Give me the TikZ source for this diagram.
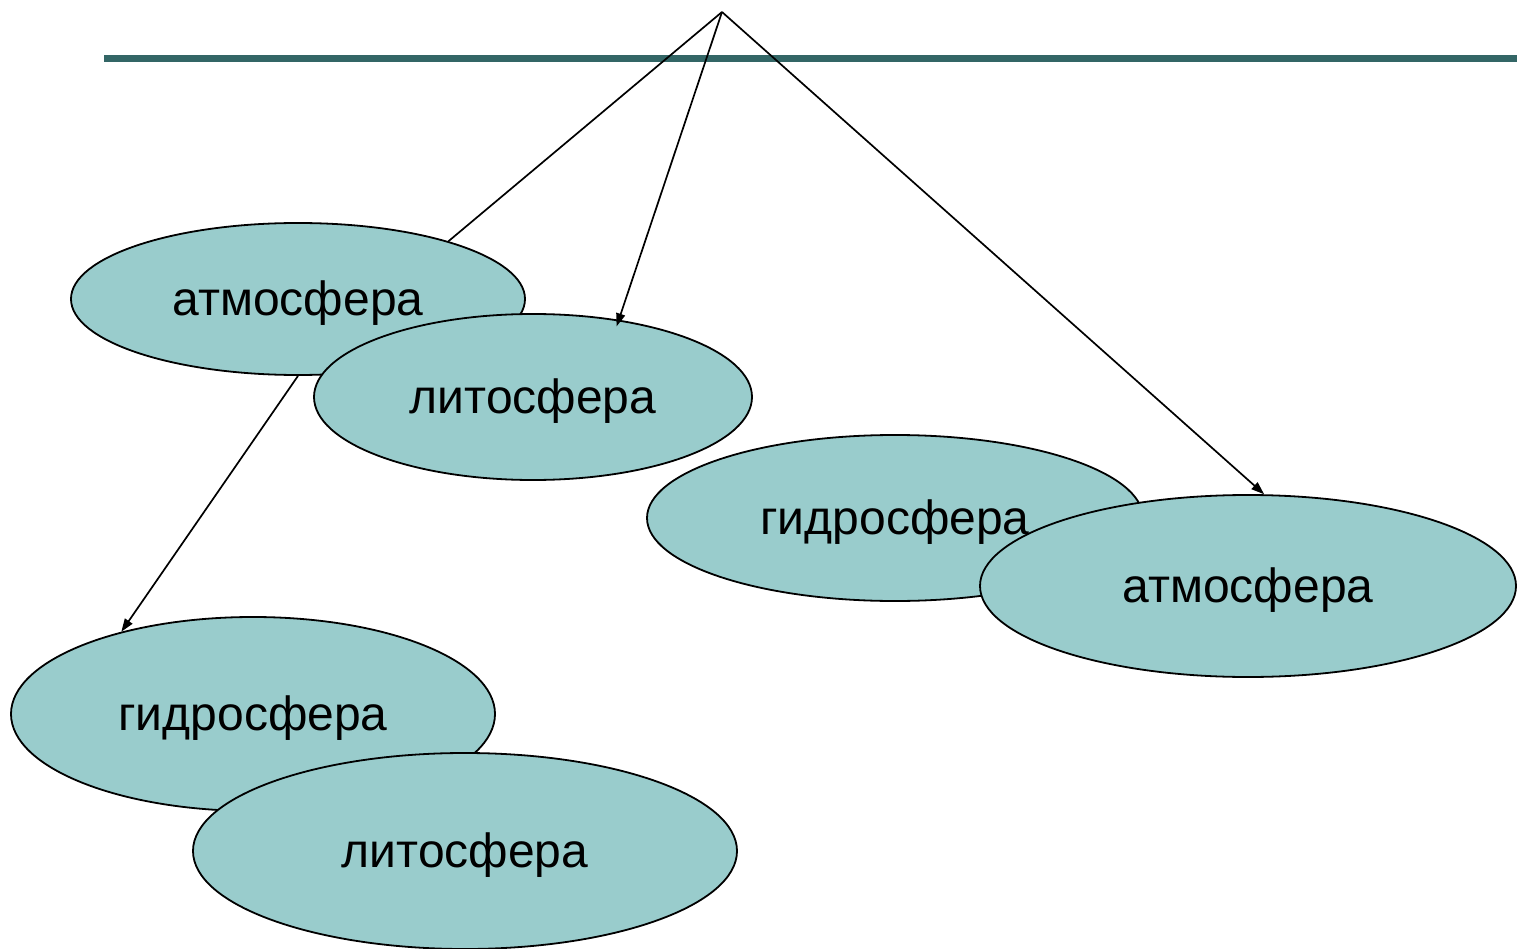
\documentclass[tikz,border=0pt]{standalone}
\usepackage{fontspec}
\setmainfont{Liberation Sans}
\usetikzlibrary{shapes.geometric,arrows.meta}
\definecolor{sphere}{HTML}{99CCCC}
\definecolor{rule}{HTML}{336666}
\tikzset{
  sph/.style={ellipse,draw=black,line width=1.8pt,fill=sphere,inner sep=0pt,
    text height=43pt,text depth=10pt,font=\fontsize{48}{56}\selectfont},
  conn/.style={draw=black,line width=1.7pt},
  arr/.style={conn,-{Triangle[length=13pt,width=9pt]}}
}
\begin{document}
\begin{tikzpicture}[x=1pt,y=-1pt]
\useasboundingbox (0,0) rectangle (1517,949);
\draw[rule,line width=7pt] (104,58.5) -- (1517,58.5);
\coordinate (apex) at (722,12);
\node[sph,minimum width=454pt,minimum height=152pt] (a1) at (298,299) {атмосфера};
\node[sph,minimum width=438pt,minimum height=166pt] (l1) at (533,397) {литосфера};
\node[sph,minimum width=496pt,minimum height=166pt] (g1) at (895,518) {гидросфера};
\node[sph,minimum width=536pt,minimum height=182pt] (a2) at (1248,586) {атмосфера};
\node[sph,minimum width=484pt,minimum height=194pt] (g2) at (253,714) {гидросфера};
\node[sph,minimum width=544pt,minimum height=196pt] (l2) at (465,851) {литосфера};
\draw[conn] (apex) -- (a1.21);
\draw[arr,shorten >=-7pt] (apex) -- (l1.42);
\draw[arr] (apex) -- (a2.80);
\draw[arr] (a1.south) -- (g2.148);
\end{tikzpicture}
\end{document}
